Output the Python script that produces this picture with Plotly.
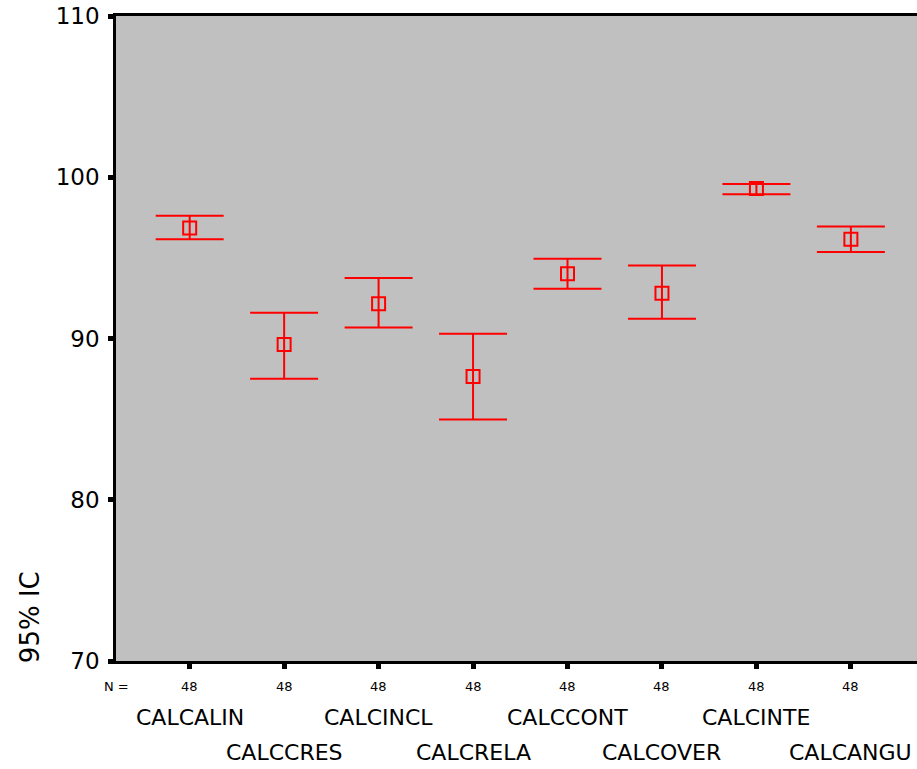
import plotly.graph_objects as go

categories = ["CALCALIN", "CALCCRES", "CALCINCL", "CALCRELA",
              "CALCCONT", "CALCOVER", "CALCINTE", "CALCANGU"]
means = [96.85, 89.63, 92.15, 87.64, 94.02, 92.81, 99.30, 96.15]
lower = [96.15, 87.50, 90.68, 84.97, 93.09, 91.22, 98.94, 95.36]
upper = [97.61, 91.60, 93.75, 90.29, 94.95, 94.53, 99.58, 96.94]
n_values = [48, 48, 48, 48, 48, 48, 48, 48]
y_ticks = [70, 80, 90, 100, 110]

FONT = "DejaVu Sans"
x = list(range(len(categories)))

fig = go.Figure()
fig.add_trace(go.Scatter(
    x=x, y=means, mode="markers",
    marker=dict(symbol="square-open", size=13, color="#ff0000",
                line=dict(width=2, color="#ff0000")),
    error_y=dict(type="data", symmetric=False,
                 array=[u - m for u, m in zip(upper, means)],
                 arrayminus=[m - l for m, l in zip(means, lower)],
                 color="#ff0000", thickness=2, width=34),
    showlegend=False, hoverinfo="skip",
))

annotations = []
annotations.append(dict(x=-0.78, y=-0.04, xref="x", yref="paper", text="N =",
                        showarrow=False, xanchor="center", yanchor="middle",
                        font=dict(family=FONT, size=13, color="black")))
for i, (cat, n) in enumerate(zip(categories, n_values)):
    annotations.append(dict(x=i, y=-0.04, xref="x", yref="paper", text=str(n),
                            showarrow=False, xanchor="center", yanchor="middle",
                            font=dict(family=FONT, size=13, color="black")))
    yy = -0.088 if i % 2 == 0 else -0.142
    annotations.append(dict(x=i, y=yy, xref="x", yref="paper", text=cat,
                            showarrow=False, xanchor="center", yanchor="middle",
                            font=dict(family=FONT, size=22, color="black")))
annotations.append(dict(x=-0.107, y=-0.006, xref="paper", yref="paper", text="95% IC",
                        showarrow=False, textangle=-90, xanchor="center",
                        yanchor="bottom",
                        font=dict(family=FONT, size=26, color="black")))

fig.update_layout(
    width=917, height=769,
    margin=dict(l=116, r=0, t=16, b=108),
    paper_bgcolor="white", plot_bgcolor="#c0c0c0",
    xaxis=dict(range=[-0.78, 7.70], tickvals=x, ticktext=["" for _ in x],
               showgrid=False, zeroline=False, showline=True,
               linecolor="black", linewidth=2.5, mirror=True,
               ticks="outside", ticklen=5, tickwidth=5, tickcolor="black"),
    yaxis=dict(range=[70, 110], tickvals=y_ticks,
               showgrid=False, zeroline=False, showline=True,
               linecolor="black", linewidth=2.5, mirror=False,
               ticks="outside", ticklen=5, tickwidth=5, tickcolor="black",
               ticklabelstandoff=4,
               tickfont=dict(family=FONT, size=23, color="black")),
    annotations=annotations,
)

fig.write_html("out.html")
